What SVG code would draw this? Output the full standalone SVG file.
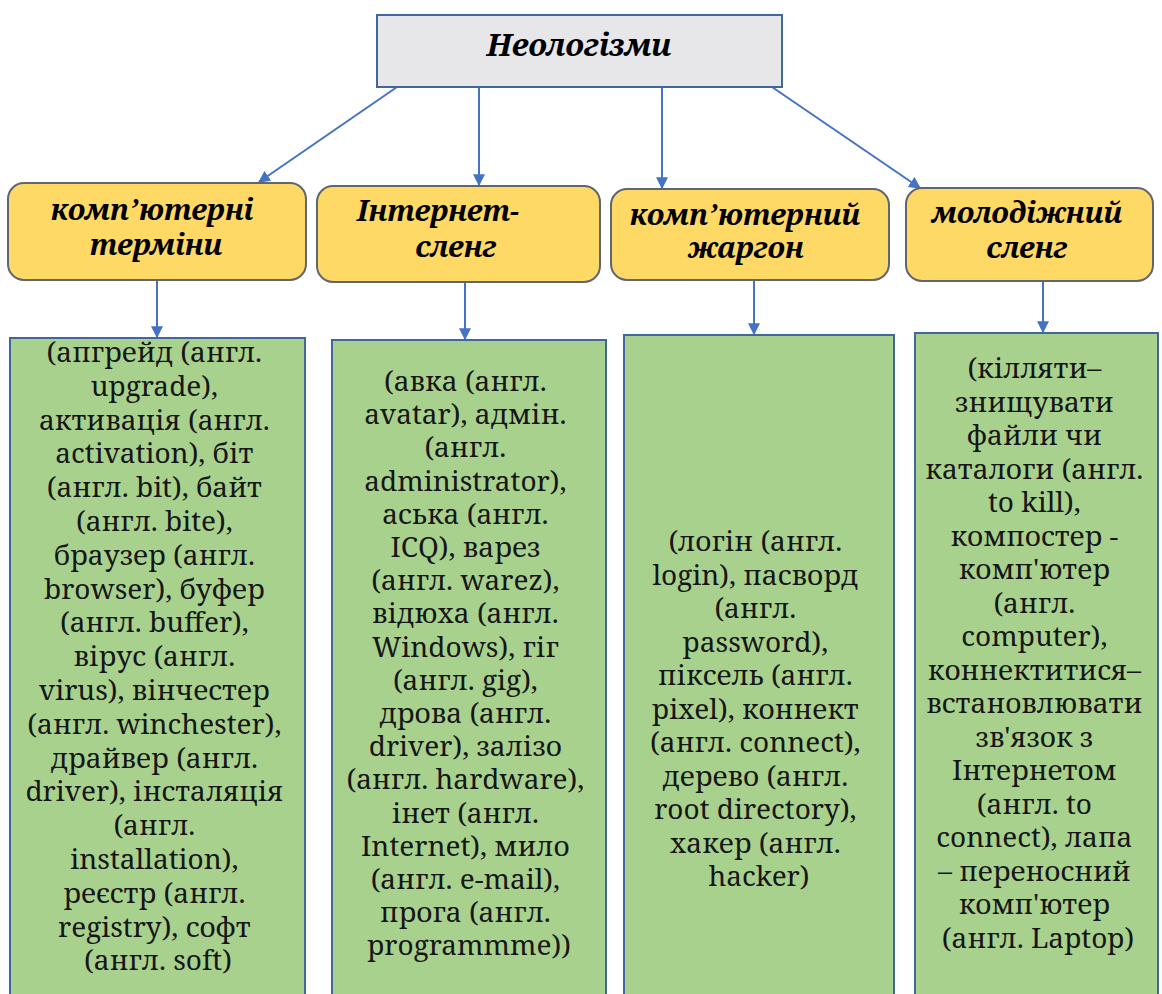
<svg xmlns="http://www.w3.org/2000/svg" width="1162" height="994" viewBox="0 0 1162 994">
<style>
.top{fill:#e7e6e8;stroke:#41679c;stroke-width:2}
.cat{fill:#ffd966;stroke:#5f6670;stroke-width:2}
.leaf{fill:#a9d18e;stroke:#41679c;stroke-width:2}
.ttl{font-family:'Noto Serif','DejaVu Serif',serif;font-weight:bold;font-style:italic;fill:#000;text-anchor:middle}
.ct{font-size:29px}
.body{font-family:'Noto Serif','DejaVu Serif',serif;font-size:28px;fill:#161616;text-anchor:middle}
.conn{stroke:#4472c4;stroke-width:2;fill:none;marker-end:url(#ah)}
</style>
<defs>
<marker id="ah" viewBox="0 0 10 10" refX="9" refY="5" markerWidth="6" markerHeight="6" markerUnits="strokeWidth" orient="auto">
<path d="M0,0 L10,5 L0,10 z" fill="#4472c4"/>
</marker>
</defs>
<rect width="1162" height="994" fill="#fff"/>

<g id="connectors">
<line class="conn" x1="397" y1="87" x2="259" y2="182"/>
<line class="conn" x1="479" y1="87" x2="479" y2="185"/>
<line class="conn" x1="662" y1="87" x2="662" y2="188"/>
<line class="conn" x1="772" y1="87" x2="920" y2="188"/>
<line class="conn" x1="157" y1="280" x2="157" y2="337"/>
<line class="conn" x1="465" y1="282" x2="465" y2="339"/>
<line class="conn" x1="754" y1="280" x2="754" y2="334"/>
<line class="conn" x1="1043" y1="282" x2="1043" y2="332"/>
</g>

<g id="root">
<rect class="top" x="377" y="15" width="405" height="72"/>
<text class="ttl" x="579" y="56" font-size="31">Неологізми</text>
</g>

<g id="cat1">
<rect class="cat" x="8" y="183" width="298" height="97" rx="16"/>
<text class="ttl ct" x="152" y="220">комп’ютерні</text>
<text class="ttl ct" x="156" y="255">терміни</text>
</g>
<g id="cat2">
<rect class="cat" x="317" y="186" width="283" height="96" rx="16"/>
<text class="ttl ct" x="438" y="221">Інтернет-</text>
<text class="ttl ct" x="456" y="257">сленг</text>
</g>
<g id="cat3">
<rect class="cat" x="611" y="189" width="278" height="91" rx="16"/>
<text class="ttl ct" x="745" y="225">комп’ютерний</text>
<text class="ttl ct" x="746" y="258">жаргон</text>
</g>
<g id="cat4">
<rect class="cat" x="906" y="188" width="247" height="93" rx="16"/>
<text class="ttl ct" x="1027" y="223">молодіжний</text>
<text class="ttl ct" x="1027" y="258">сленг</text>
</g>

<g id="leaf1">
<rect class="leaf" x="10" y="338" width="295" height="670"/>
<text class="body" x="158">
<tspan x="158" y="362">(апгрейд (англ.</tspan>
<tspan x="158" dy="33.8">upgrade),</tspan>
<tspan x="158" dy="33.8">активація (англ.</tspan>
<tspan x="158" dy="33.8">activation), біт</tspan>
<tspan x="158" dy="33.8">(англ. bit), байт</tspan>
<tspan x="158" dy="33.8">(англ. bite),</tspan>
<tspan x="158" dy="33.8">браузер (англ.</tspan>
<tspan x="158" dy="33.8">browser), буфер</tspan>
<tspan x="158" dy="33.8">(англ. buffer),</tspan>
<tspan x="158" dy="33.8">вірус (англ.</tspan>
<tspan x="158" dy="33.8">virus), вінчестер</tspan>
<tspan x="158" dy="33.8">(англ. winchester),</tspan>
<tspan x="158" dy="33.8">драйвер (англ.</tspan>
<tspan x="158" dy="33.8">driver), інсталяція</tspan>
<tspan x="158" dy="33.8">(англ.</tspan>
<tspan x="158" dy="33.8">installation),</tspan>
<tspan x="158" dy="33.8">реєстр (англ.</tspan>
<tspan x="158" dy="33.8">registry), софт</tspan>
<tspan x="158" dy="33.8">(англ. soft)</tspan>
</text>
</g>

<g id="leaf2">
<rect class="leaf" x="332" y="340" width="274" height="668"/>
<text class="body" x="469">
<tspan x="469" y="391">(авка (англ.</tspan>
<tspan x="469" dy="33.2">avatar), адмін.</tspan>
<tspan x="469" dy="33.2">(англ.</tspan>
<tspan x="469" dy="33.2">administrator),</tspan>
<tspan x="469" dy="33.2">аська (англ.</tspan>
<tspan x="469" dy="33.2">ICQ), варез</tspan>
<tspan x="469" dy="33.2">(англ. warez),</tspan>
<tspan x="469" dy="33.2">відюха (англ.</tspan>
<tspan x="469" dy="33.2">Windows), гіг</tspan>
<tspan x="469" dy="33.2">(англ. gig),</tspan>
<tspan x="469" dy="33.2">дрова (англ.</tspan>
<tspan x="469" dy="33.2">driver), залізо</tspan>
<tspan x="469" dy="33.2">(англ. hardware),</tspan>
<tspan x="469" dy="33.2">інет (англ.</tspan>
<tspan x="469" dy="33.2">Internet), мило</tspan>
<tspan x="469" dy="33.2">(англ. e-mail),</tspan>
<tspan x="469" dy="33.2">прога (англ.</tspan>
<tspan x="469" dy="33.2">programmme))</tspan>
</text>
</g>

<g id="leaf3">
<rect class="leaf" x="624" y="335" width="270" height="673"/>
<text class="body" x="759">
<tspan x="759" y="551">(логін (англ.</tspan>
<tspan x="759" dy="33.5">login), пасворд</tspan>
<tspan x="759" dy="33.5">(англ.</tspan>
<tspan x="759" dy="33.5">password),</tspan>
<tspan x="759" dy="33.5">піксель (англ.</tspan>
<tspan x="759" dy="33.5">pixel), коннект</tspan>
<tspan x="759" dy="33.5">(англ. connect),</tspan>
<tspan x="759" dy="33.5">дерево (англ.</tspan>
<tspan x="759" dy="33.5">root directory),</tspan>
<tspan x="759" dy="33.5">хакер (англ.</tspan>
<tspan x="759" dy="33.5">hacker)</tspan>
</text>
</g>

<g id="leaf4">
<rect class="leaf" x="915" y="333" width="243" height="675"/>
<text class="body" x="1038">
<tspan x="1038" y="378">(кілляти–</tspan>
<tspan x="1038" dy="33.5">знищувати</tspan>
<tspan x="1038" dy="33.5">файли чи</tspan>
<tspan x="1038" dy="33.5">каталоги (англ.</tspan>
<tspan x="1038" dy="33.5">to kill),</tspan>
<tspan x="1038" dy="33.5">компостер -</tspan>
<tspan x="1038" dy="33.5">комп'ютер</tspan>
<tspan x="1038" dy="33.5">(англ.</tspan>
<tspan x="1038" dy="33.5">computer),</tspan>
<tspan x="1038" dy="33.5">коннектитися–</tspan>
<tspan x="1038" dy="33.5">встановлювати</tspan>
<tspan x="1038" dy="33.5">зв'язок з</tspan>
<tspan x="1038" dy="33.5">Інтернетом</tspan>
<tspan x="1038" dy="33.5">(англ. to</tspan>
<tspan x="1038" dy="33.5">connect), лапа</tspan>
<tspan x="1038" dy="33.5">– переносний</tspan>
<tspan x="1038" dy="33.5">комп'ютер</tspan>
<tspan x="1038" dy="33.5">(англ. Laptop)</tspan>
</text>
</g>
</svg>
